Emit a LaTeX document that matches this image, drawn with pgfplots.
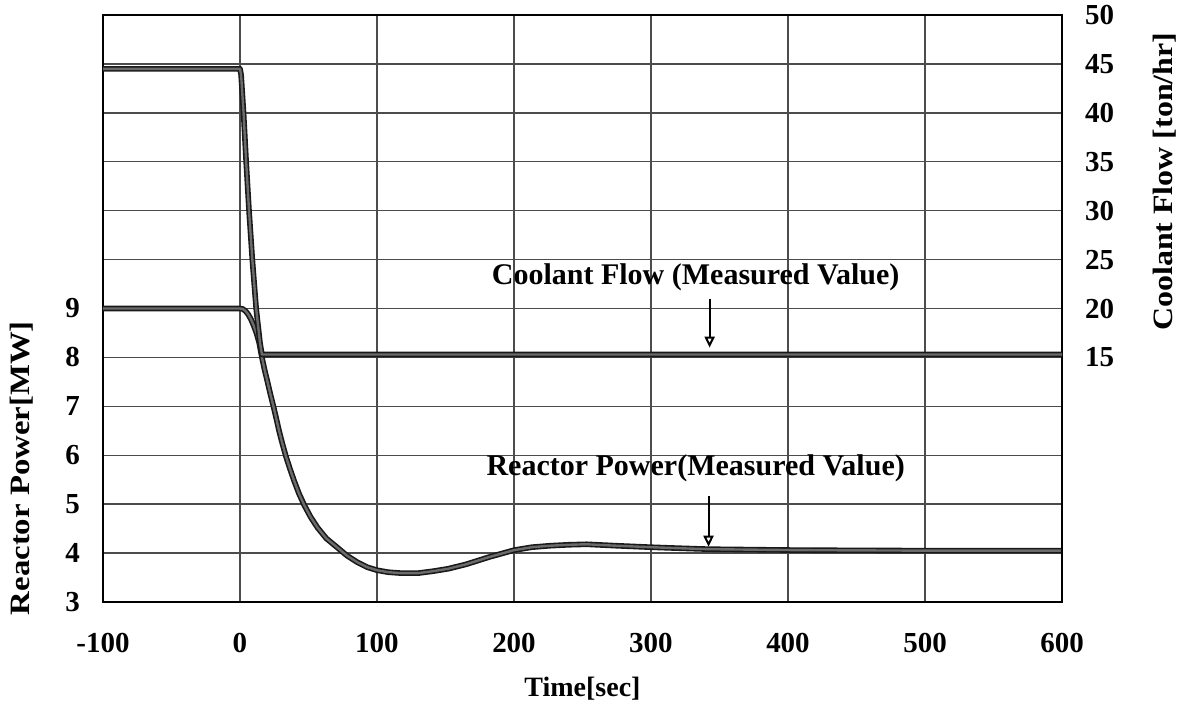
\documentclass[border=0pt]{standalone}
\usepackage{pgfplots}
\pgfplotsset{compat=1.18}
\usepackage{fontspec}
\setmainfont{Liberation Serif}
\usetikzlibrary{arrows.meta}
\pgfplotstableread{
t P
-100 9.0
0 9.0
2 8.99
4 8.95
6 8.88
8 8.78
10 8.65
12 8.5
14 8.3
16 8.0
18 7.74
20 7.51
22 7.27
24.4 7.0
26.5 6.75
28.6 6.49
31 6.23
33.5 5.98
36.5 5.72
39.6 5.47
43 5.22
46.9 4.98
51.5 4.74
56.6 4.52
63 4.30
71.2 4.11
78 3.95
85.8 3.81
93 3.71
100 3.65
108 3.61
117.5 3.59
130 3.59
141 3.63
152 3.68
165 3.77
182 3.92
200 4.06
213 4.12
226 4.15
240 4.17
253 4.18
275 4.15
300 4.12
320 4.10
342 4.08
375 4.07
408 4.06
500 4.05
600 4.05
}\powertable
\pgfplotstableread{
t F
-100 44.5
0 44.5
0.8 43.9
2.6 40.0
4.5 35.0
6.6 30.0
9.0 25.0
11.8 20.0
14.6 16.5
16.0 15.3
600 15.3
}\flowtable
\begin{document}
\begin{tikzpicture}[font=\fontsize{15}{17}\selectfont\bfseries]
\useasboundingbox (-51.5pt,-53pt) rectangle (541pt,301pt);
\begin{axis}[
  at={(0,0)}, anchor=south west,
  scale only axis, width=479.5pt, height=293.5pt,
  xmin=-100, xmax=600, ymin=3, ymax=15,
  xtick={-100,0,100,200,300,400,500,600},
  xticklabels={-100,0,100,200,300,400,500,600},
  ytick={3,4,5,6,7,8,9,10,11,12,13,14,15},
  yticklabels={3,4,5,6,7,8,9,,,,,,},
  major tick length=0pt,
  grid=major,
  grid style={black!70, line width=0.7pt},
  axis line style={black, line width=1.1pt},
  xticklabel style={anchor=north, yshift=-12pt, font=\fontsize{14.5}{16}\selectfont\bfseries},
  yticklabel style={anchor=east, xshift=-8pt, font=\fontsize{14.5}{16}\selectfont\bfseries},
  xlabel={Time[sec]},
  xlabel style={at={(axis description cs:0.5,-0.148)}, anchor=center, font=\fontsize{14}{16}\selectfont\bfseries},
  ylabel={\scalebox{1.17}[1]{Reactor Power[MW]}},
  ylabel style={at={(axis description cs:-0.0848,0.228)}, anchor=center, rotate=0, font=\fontsize{14}{16}\selectfont\bfseries},
  clip=true,
]
\addplot[black!90, line width=2.8pt, line join=round] table[x=t, y=P] {\powertable};
\addplot[black!58, line width=1.2pt, line join=round] table[x=t, y=P] {\powertable};
\node[anchor=center] at (axis cs:332.6,5.74) {Reactor Power(Measured Value)};
\draw[line width=1pt, -{Triangle[open, length=5.5pt, width=5pt]}] (axis cs:342,5.17) -- (axis cs:342,4.13);
\end{axis}
\begin{axis}[
  at={(0,0)}, anchor=south west,
  scale only axis, width=479.5pt, height=293.5pt,
  xmin=-100, xmax=600, ymin=-10, ymax=50,
  axis x line=none,
  axis y line*=right,
  ytick={15,20,25,30,35,40,45,50},
  yticklabels={15,20,25,30,35,40,45,50},
  major tick length=0pt,
  axis line style={black, line width=1.1pt},
  yticklabel style={anchor=west, xshift=8pt, font=\fontsize{14.5}{16}\selectfont\bfseries},
  ylabel={\scalebox{1.14}[1]{Coolant Flow [ton/hr]}},
  ylabel style={at={(axis description cs:1.1074,0.716)}, anchor=center, rotate=0, font=\fontsize{14}{16}\selectfont\bfseries},
]
\addplot[black!90, line width=2.8pt, line join=round] table[x=t, y=F] {\flowtable};
\addplot[black!58, line width=1.2pt, line join=round] table[x=t, y=F] {\flowtable};
\node[anchor=center] at (axis cs:332.6,23.2) {Coolant Flow (Measured Value)};
\draw[line width=1pt, -{Triangle[open, length=5.5pt, width=5pt]}] (axis cs:342.8,21.0) -- (axis cs:342.8,16.0);
\end{axis}
\end{tikzpicture}
\end{document}
